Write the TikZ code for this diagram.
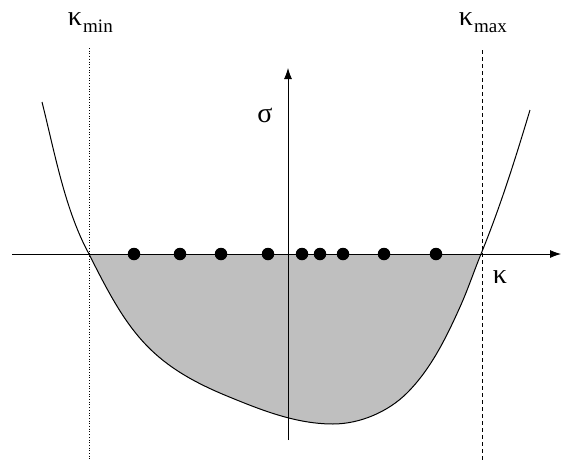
\documentclass[tikz,border=0pt]{standalone}
\usepackage{fontspec}
\setmainfont{Liberation Serif}
\usetikzlibrary{arrows.meta}
\begin{document}
\begin{tikzpicture}[x=1pt,y=-1pt,
  axis/.style={line width=0.8pt,-{Latex[length=11pt,width=8pt]}},
  curve/.style={line width=1pt},
  region/.style={fill=black!25},
  bound/.style={line width=0.7pt},
  ptdot/.style={circle,fill=black,inner sep=0pt,minimum size=12.5pt},
  lbl/.style={inner sep=0pt,font=\fontsize{28}{30}\selectfont},
  sub/.style={inner sep=0pt,font=\fontsize{19}{21}\selectfont}]
\useasboundingbox (0,0) rectangle (566,461);
\coordinate (c0) at (42,102);
\coordinate (c1) at (89,254);
\coordinate (c3) at (227,396);
\coordinate (c4) at (333,424);
\coordinate (c5) at (407,393);
\coordinate (c6) at (460,307);
\coordinate (c7) at (481,254);
\coordinate (c8) at (530,110);
% shaded region
\fill[region] (c1) .. controls (127,330) and (148.4,363.7) .. (c3)
  .. controls (261,410) and (296,424) .. (c4)
  .. controls (359.7,424) and (388.1,411.9) .. (c5)
  .. controls (430.8,369.2) and (446.2,337.7) .. (c6)
  .. controls (467.8,289.7) and (473.8,271.6) .. (c7) -- cycle;
% bounds
\coordinate (kminTop) at (89,48);
\coordinate (kminBot) at (89,461);
\coordinate (kmaxTop) at (482,50);
\coordinate (kmaxBot) at (482,461);
\draw[bound,dotted] (kminTop) -- (kminBot);
\draw[bound,dashed,dash pattern=on 4pt off 3pt] (kmaxTop) -- (kmaxBot);
% axes
\coordinate (hx0) at (12,254);
\coordinate (hx1) at (561,254);
\coordinate (vy0) at (288,440);
\coordinate (vy1) at (288,68);
\draw[axis] (hx0) -- (hx1);
\draw[axis] (vy0) -- (vy1);
% curve
\draw[curve] (c0) .. controls (54.9,153.4) and (65,210) .. (c1)
  .. controls (127,330) and (148.4,363.7) .. (c3)
  .. controls (261,410) and (296,424) .. (c4)
  .. controls (359.7,424) and (388.1,411.9) .. (c5)
  .. controls (430.8,369.2) and (446.2,337.7) .. (c6)
  .. controls (467.8,289.7) and (473.8,271.6) .. (c7)
  .. controls (500.2,207.1) and (515.4,158.6) .. (c8);
% dots
\foreach \x [count=\i] in {134,180,221,268,302,320,343,384,436}
  \node[ptdot] (p\i) at (\x,254) {};
% labels
\node[lbl,anchor=base] (kmin) at (75,25) {κ};
\node[sub,anchor=base west] (kminsub) at (83,32) {min};
\node[lbl,anchor=base] (kmax) at (466,25) {κ};
\node[sub,anchor=base west] (kmaxsub) at (474,32) {max};
\node[lbl,anchor=base] (sigma) at (265,122) {σ};
\node[lbl,anchor=base] (kappa) at (500,283) {κ};
\end{tikzpicture}
\end{document}
